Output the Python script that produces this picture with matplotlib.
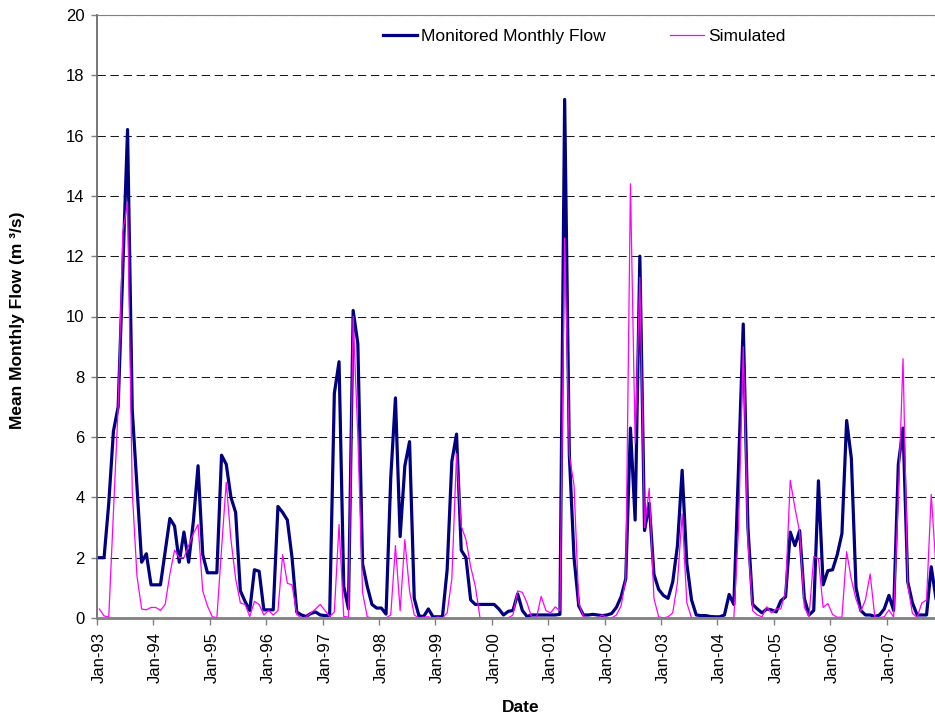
import matplotlib
matplotlib.use('Agg')
import matplotlib.pyplot as plt
import numpy as np

plt.rcParams['font.family'] = ['Liberation Sans', 'DejaVu Sans']

# monthly values, Jan-93 onwards (m3/s)
monitored = [
    2.0, 2.0, 3.8, 6.2, 7.0, 11.6, 16.2, 6.9, 4.4, 1.85, 2.13, 1.1,
    1.1, 1.1, 2.2, 3.3, 3.05, 1.85, 2.85, 1.85, 3.2, 5.05, 2.1, 1.5,
    1.5, 1.5, 5.4, 5.1, 4.0, 3.5, 0.9, 0.55, 0.25, 1.6, 1.55, 0.27,
    0.27, 0.27, 3.7, 3.5, 3.25, 2.0, 0.2, 0.1, 0.05, 0.15, 0.2, 0.1,
    0.08, 0.08, 7.45, 8.5, 1.05, 0.3, 10.2, 9.1, 1.8, 1.05, 0.45, 0.33,
    0.33, 0.13, 4.65, 7.3, 2.7, 5.05, 5.85, 0.65, 0.07, 0.05, 0.3, 0.04,
    0.04, 0.04, 1.6, 5.2, 6.1, 2.25, 2.0, 0.6, 0.45, 0.45, 0.45, 0.45,
    0.45, 0.3, 0.1, 0.22, 0.25, 0.8, 0.25, 0.05, 0.1, 0.1, 0.1, 0.1,
    0.1, 0.1, 0.12, 17.2, 5.4, 2.0, 0.4, 0.1, 0.1, 0.12, 0.1, 0.08,
    0.1, 0.15, 0.35, 0.7, 1.3, 6.3, 3.25, 12.0, 2.9, 3.8, 1.45, 0.95,
    0.75, 0.65, 1.2, 2.4, 4.9, 1.8, 0.6, 0.1, 0.08, 0.08, 0.05, 0.04,
    0.04, 0.1, 0.78, 0.45, 5.0, 9.75, 3.0, 0.45, 0.3, 0.17, 0.3, 0.27,
    0.2, 0.57, 0.7, 2.85, 2.4, 2.9, 0.65, 0.1, 0.25, 4.55, 1.1, 1.57,
    1.6, 2.1, 2.8, 6.55, 5.3, 1.0, 0.25, 0.1, 0.1, 0.05, 0.1, 0.3,
    0.75, 0.25, 5.1, 6.3, 1.2, 0.5, 0.1, 0.1, 0.1, 1.7, 0.65]

simulated = [
    0.3, 0.07, 0.03, 3.5, 7.0, 12.8, 13.8, 4.2, 1.4, 0.3, 0.27, 0.35,
    0.35, 0.25, 0.45, 1.45, 2.25, 2.0, 2.0, 2.4, 2.8, 3.1, 0.9, 0.4,
    0.05, 0.0, 2.3, 4.5, 2.6, 1.3, 0.5, 0.45, 0.05, 0.55, 0.45, 0.1,
    0.25, 0.1, 0.25, 2.1, 1.15, 1.1, 0.12, 0.0, 0.03, 0.17, 0.3, 0.45,
    0.25, 0.05, 0.2, 3.1, 0.05, 0.03, 10.0, 6.0, 0.85, 0.04, 0.0, 0.0,
    0.0, 0.0, 0.1, 2.4, 0.24, 2.6, 0.9, 0.1, 0.0, 0.03, 0.04, 0.0,
    0.03, 0.0, 0.17, 1.3, 5.45, 3.05, 2.6, 1.7, 1.05, 0.0, 0.0, 0.0,
    0.0, 0.0, 0.0, 0.0, 0.1, 0.9, 0.85, 0.5, 0.0, 0.0, 0.72, 0.25,
    0.17, 0.37, 0.24, 12.6, 5.4, 4.4, 0.5, 0.04, 0.0, 0.0, 0.0, 0.1,
    0.0, 0.0, 0.1, 0.4, 1.3, 14.4, 5.8, 11.3, 3.0, 4.3, 0.65, 0.04,
    0.0, 0.04, 0.17, 1.17, 3.45, 0.5, 0.0, 0.0, 0.0, 0.0, 0.0, 0.0,
    0.0, 0.0, 0.0, 0.0, 3.0, 9.0, 2.5, 0.24, 0.1, 0.04, 0.37, 0.17,
    0.3, 0.3, 0.9, 4.57, 3.65, 2.85, 0.35, 0.05, 2.04, 1.97, 0.35, 0.48,
    0.12, 0.02, 0.03, 2.2, 1.28, 0.62, 0.22, 0.6, 1.46, 0.03, 0.01, 0.04,
    0.27, 0.03, 4.0, 8.6, 1.1, 0.15, 0.02, 0.5, 0.6, 4.1, 1.7]

tick_labels = ['Jan-93', 'Jan-94', 'Jan-95', 'Jan-96', 'Jan-97', 'Jan-98',
               'Jan-99', 'Jan-00', 'Jan-01', 'Jan-02', 'Jan-03', 'Jan-04',
               'Jan-05', 'Jan-06', 'Jan-07']

months = np.arange(len(monitored))

fig = plt.figure(figsize=(9.35, 7.17), dpi=100)
ax = fig.add_axes([97/935, 99/717, 838/935, 603/717])

ax.plot(months, monitored, color='#000080', lw=2.3, label='Monitored Monthly Flow')
ax.plot(months, simulated, color='#FF00FF', lw=0.9, label='Simulated')

ax.set_xlim(-0.5, 177.8)
ax.set_ylim(0, 20)
ax.set_yticks(range(0, 21, 2))
ax.set_axisbelow(True)
ax.grid(axis='y', color='#1a1a1a', lw=0.75, linestyle=(0, (8, 4.5)))

ax.set_xticks(np.arange(0, len(monitored), 12)[:len(tick_labels)])
ax.set_xticklabels(tick_labels, rotation=90)
ax.set_xticks(np.arange(-0.5, 178, 12), minor=True)
ax.tick_params(axis='x', which='major', length=0, pad=10, labelsize=12)
ax.tick_params(axis='x', which='minor', length=5, width=1, color='#808080', direction='out')
ax.tick_params(axis='y', length=4, width=1, color='#808080', direction='out', pad=5, labelsize=12)

ax.spines['right'].set_visible(False)
ax.spines['top'].set_color('#808080')
ax.spines['top'].set_linewidth(0.8)
ax.spines['left'].set_color('#606060')
ax.spines['left'].set_linewidth(1.2)
ax.spines['bottom'].set_color('#808080')
ax.spines['bottom'].set_linewidth(2)

fig.text(18/935, 1 - 320/717, 'Mean Monthly Flow (m ³/s)', rotation=90,
         ha='center', va='center', fontweight='bold', fontsize=12.5)
fig.text(521/935, 1 - 707/717, 'Date', ha='center', va='center',
         fontweight='bold', fontsize=12.5)

fig.legend(loc='center left', bbox_to_anchor=(383/935, 1 - 36/717), ncol=2,
           frameon=False, fontsize=12.5, handlelength=1.95, handletextpad=0.25,
           columnspacing=3.7, borderpad=0, borderaxespad=0)

fig.savefig('out.png', dpi=100)
